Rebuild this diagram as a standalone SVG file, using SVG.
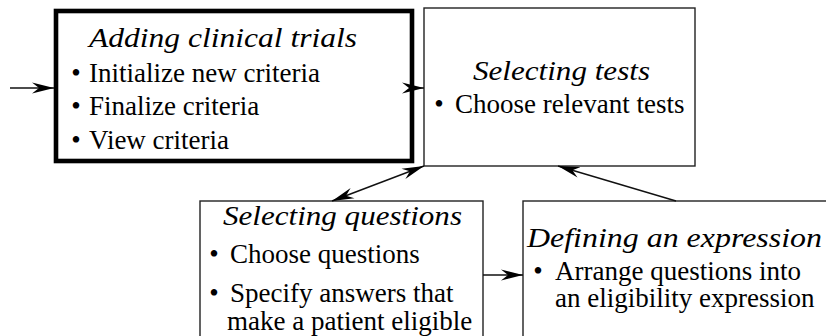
<svg xmlns="http://www.w3.org/2000/svg" width="826" height="336" viewBox="0 0 826 336">
<style>
.box{fill:#fff;stroke:#222;stroke-width:1.4}
.thick{fill:#fff;stroke:#000;stroke-width:4.6}
text{font-size:27px;fill:#000}
.ti{font-style:italic}
.b{text-anchor:middle}
.c{fill:none;stroke:#111;stroke-width:1.4}
</style>
<defs>
<marker id="ah" markerUnits="userSpaceOnUse" viewBox="0 0 22 12" refX="22" refY="6" markerWidth="22" markerHeight="12" orient="auto-start-reverse">
<path d="M0,0.5 L22,6 L0,11.5 L7,6 Z" fill="#000"/>
</marker>
</defs>
<rect width="826" height="336" fill="#fff"/>
<g font-family="Liberation Serif, Tinos, Times New Roman, Times, serif">
<g id="adding-clinical-trials">
<rect class="thick" x="56" y="11" width="356" height="150"/>
<text class="ti" x="89" y="47" textLength="268" lengthAdjust="spacingAndGlyphs">Adding clinical trials</text>
<text class="b" x="76" y="82">•</text><text x="89" y="82">Initialize new criteria</text>
<text class="b" x="76" y="115">•</text><text x="89" y="115">Finalize criteria</text>
<text class="b" x="76" y="149">•</text><text x="89" y="149">View criteria</text>
</g>
<g id="selecting-tests">
<rect class="box" x="424" y="8" width="271" height="158"/>
<text class="ti" x="473" y="80" textLength="177" lengthAdjust="spacingAndGlyphs">Selecting tests</text>
<text class="b" x="439" y="113">•</text><text x="455" y="113">Choose relevant tests</text>
</g>
<g id="selecting-questions">
<rect class="box" x="200" y="201" width="283" height="150"/>
<text class="ti" x="223" y="225" textLength="239" lengthAdjust="spacingAndGlyphs">Selecting questions</text>
<text class="b" x="214" y="263">•</text><text x="230" y="263">Choose questions</text>
<text class="b" x="214" y="302">•</text><text x="230" y="302">Specify answers that</text>
<text x="227" y="330">make a patient eligible</text>
</g>
<g id="defining-an-expression">
<rect class="box" x="523" y="201" width="320" height="150"/>
<text class="ti" x="527" y="247" textLength="295" lengthAdjust="spacingAndGlyphs">Defining an expression</text>
<text class="b" x="538" y="280">•</text><text x="555" y="280">Arrange questions into</text>
<text x="555" y="307">an eligibility expression</text>
</g>
</g>
<g id="connectors">
<line class="c" x1="10" y1="88" x2="54" y2="88" marker-end="url(#ah)"/>
<line class="c" x1="414" y1="88" x2="424" y2="88" marker-end="url(#ah)"/>
<line class="c" x1="332" y1="201" x2="424" y2="166" marker-start="url(#ah)" marker-end="url(#ah)"/>
<line class="c" x1="483" y1="275" x2="523" y2="275" marker-end="url(#ah)"/>
<line class="c" x1="676" y1="201" x2="558" y2="166" marker-end="url(#ah)"/>
</g>
</svg>
